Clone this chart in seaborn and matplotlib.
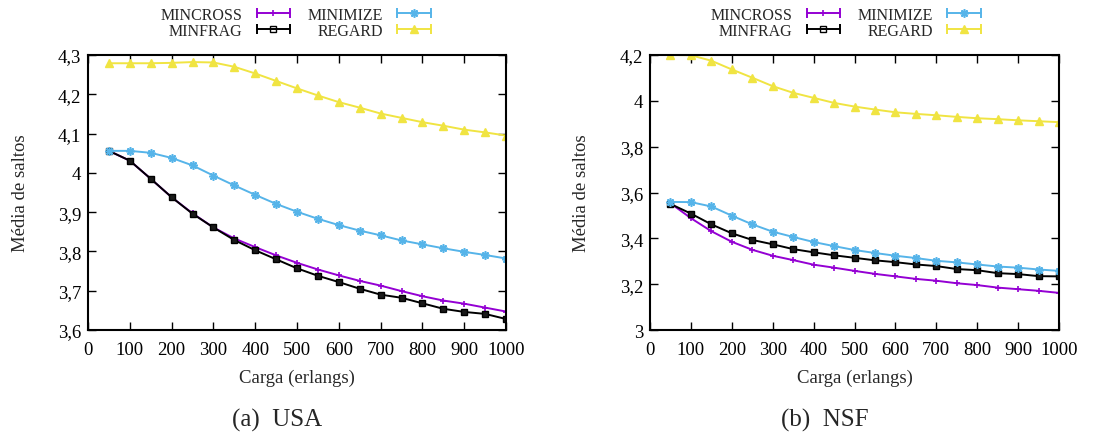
import numpy as np
import pandas as pd
import matplotlib
matplotlib.use("Agg")
import matplotlib.pyplot as plt
import seaborn as sns
from matplotlib.lines import Line2D
from matplotlib.legend_handler import HandlerLine2D, HandlerTuple
from matplotlib.ticker import FuncFormatter

# Offered load (erlangs)
load = [50, 100, 150, 200, 250, 300, 350, 400, 450, 500,
        550, 600, 650, 700, 750, 800, 850, 900, 950, 1000]

# Mean number of hops - USA topology
usa_mincross = [4.056, 4.031, 3.985, 3.938, 3.897, 3.861, 3.833, 3.811, 3.790, 3.771,
                3.754, 3.739, 3.725, 3.713, 3.699, 3.686, 3.675, 3.667, 3.657, 3.647]
usa_minfrag = [4.056, 4.031, 3.985, 3.938, 3.896, 3.861, 3.829, 3.803, 3.780, 3.757,
               3.738, 3.722, 3.705, 3.690, 3.682, 3.668, 3.654, 3.646, 3.641, 3.628]
usa_minimize = [4.056, 4.056, 4.051, 4.038, 4.019, 3.993, 3.968, 3.944, 3.921, 3.901,
                3.883, 3.867, 3.853, 3.841, 3.828, 3.818, 3.808, 3.799, 3.791, 3.782]
usa_regard = [4.279, 4.279, 4.279, 4.280, 4.282, 4.281, 4.270, 4.253, 4.234, 4.215,
              4.197, 4.180, 4.166, 4.151, 4.140, 4.129, 4.120, 4.110, 4.103, 4.095]

# Mean number of hops - NSF topology
nsf_mincross = [3.553, 3.488, 3.431, 3.385, 3.350, 3.324, 3.305, 3.285, 3.272, 3.258,
                3.245, 3.234, 3.223, 3.215, 3.204, 3.196, 3.185, 3.178, 3.171, 3.162]
nsf_minfrag = [3.550, 3.508, 3.461, 3.422, 3.393, 3.374, 3.353, 3.339, 3.326, 3.315,
               3.304, 3.296, 3.286, 3.279, 3.266, 3.261, 3.248, 3.244, 3.235, 3.234]
nsf_minimize = [3.559, 3.558, 3.539, 3.499, 3.461, 3.429, 3.406, 3.384, 3.366, 3.349,
                3.336, 3.324, 3.314, 3.302, 3.295, 3.286, 3.277, 3.272, 3.264, 3.258]
nsf_regard = [4.200, 4.199, 4.175, 4.137, 4.101, 4.064, 4.035, 4.013, 3.991, 3.975,
              3.962, 3.950, 3.943, 3.937, 3.930, 3.924, 3.920, 3.915, 3.911, 3.907]

algorithms = ["MINCROSS", "MINFRAG", "MINIMIZE", "REGARD"]

x_ticks = [0, 100, 200, 300, 400, 500, 600, 700, 800, 900, 1000]
usa_yticks = [3.6, 3.7, 3.8, 3.9, 4.0, 4.1, 4.2, 4.3]
nsf_yticks = [3.0, 3.2, 3.4, 3.6, 3.8, 4.0, 4.2]

panels = [
    ("(a)  USA", [usa_mincross, usa_minfrag, usa_minimize, usa_regard], usa_yticks),
    ("(b)  NSF", [nsf_mincross, nsf_minfrag, nsf_minimize, nsf_regard], nsf_yticks),
]

styles = {
    "MINCROSS": dict(color="#9400D3", marker="+", ms=5, mfc="#9400D3", mew=1.2),
    "MINFRAG": dict(color="#000000", marker="s", ms=5, mfc="#1a1a1a", mew=1.0),
    "MINIMIZE": dict(color="#56B4E9", marker=(8, 2, 0), ms=6, mfc="#56B4E9", mew=1.2),
    "REGARD": dict(color="#F0E442", marker="^", ms=5.5, mfc="#F0E442", mew=1.0),
}

sns.set_style("ticks")
plt.rcParams["font.family"] = ["Liberation Serif", "DejaVu Serif"]
plt.rcParams["mathtext.fontset"] = "stix"

fig = plt.figure(figsize=(11.11, 4.35), dpi=100)
axes_rects = [
    [88 / 1111, 1 - 331 / 435, 418 / 1111, 275 / 435],
    [650 / 1111, 1 - 331 / 435, 409 / 1111, 275 / 435],
]
caption_x = [277 / 1111, 825 / 1111]
legend_x = [298 / 1111, 848 / 1111]
ylabel_x = [-0.140, -0.146]


def comma_fmt(v, _pos):
    s = f"{round(v, 2):g}"
    return s.replace(".", ",")


for i, (caption, series, yticks) in enumerate(panels):
    ax = fig.add_axes(axes_rects[i])
    df = pd.DataFrame({"Carga": load * 4,
                       "Media": np.concatenate(series),
                       "Algoritmo": np.repeat(algorithms, len(load))})
    for name in algorithms:
        st = styles[name]
        sub = df[df["Algoritmo"] == name]
        sns.lineplot(data=sub, x="Carga", y="Media", ax=ax, color=st["color"],
                     marker=st["marker"], markersize=st["ms"],
                     markerfacecolor=st["mfc"], markeredgecolor=st["color"],
                     markeredgewidth=st["mew"], linewidth=1.4, legend=False)

    ax.set_xlim(0, 1000)
    ax.set_ylim(yticks[0], yticks[-1])
    ax.set_xticks(x_ticks)
    ax.set_yticks(yticks)
    ax.yaxis.set_major_formatter(FuncFormatter(comma_fmt))
    ax.tick_params(direction="in", top=True, right=True, length=6, width=1,
                   labelsize=13.5, colors="black")
    ax.tick_params(axis="x", pad=8)
    ax.tick_params(axis="y", pad=5)
    for sp in ax.spines.values():
        sp.set_visible(True)
        sp.set_linewidth(1.5)
        sp.set_color("black")
    ax.set_xlabel("Carga (erlangs)", fontsize=13.5)
    ax.set_ylabel("Média de saltos", fontsize=13.5)
    ax.xaxis.set_label_coords(0.5, -0.142)
    ax.yaxis.set_label_coords(ylabel_x[i], 0.5)

    fig.text(caption_x[i], 1 - 420 / 435, caption, ha="center", va="center",
             fontsize=18)

    handles = []
    hmap = {tuple: HandlerTuple(ndivide=1)}
    for name in algorithms:
        st = styles[name]
        cap = Line2D([], [], color=st["color"], lw=1.4, marker="|",
                     markersize=7, markeredgewidth=1.4)
        mfc = "none" if name == "MINFRAG" else st["mfc"]
        mk = Line2D([], [], color=st["color"], lw=0, marker=st["marker"],
                    markersize=st["ms"], markerfacecolor=mfc,
                    markeredgecolor=st["color"], markeredgewidth=st["mew"])
        hmap[cap] = HandlerLine2D(numpoints=2)
        hmap[mk] = HandlerLine2D(numpoints=1)
        handles.append((cap, mk))
    fig.legend(handles, algorithms, handler_map=hmap, ncol=2,
               loc="upper center", bbox_to_anchor=(legend_x[i], 1.0),
               frameon=False, markerfirst=False, fontsize=11.5,
               handlelength=2.7, handletextpad=0.6, columnspacing=0.8,
               labelspacing=0.0, borderpad=0)

fig.savefig("out.png", dpi=100)
